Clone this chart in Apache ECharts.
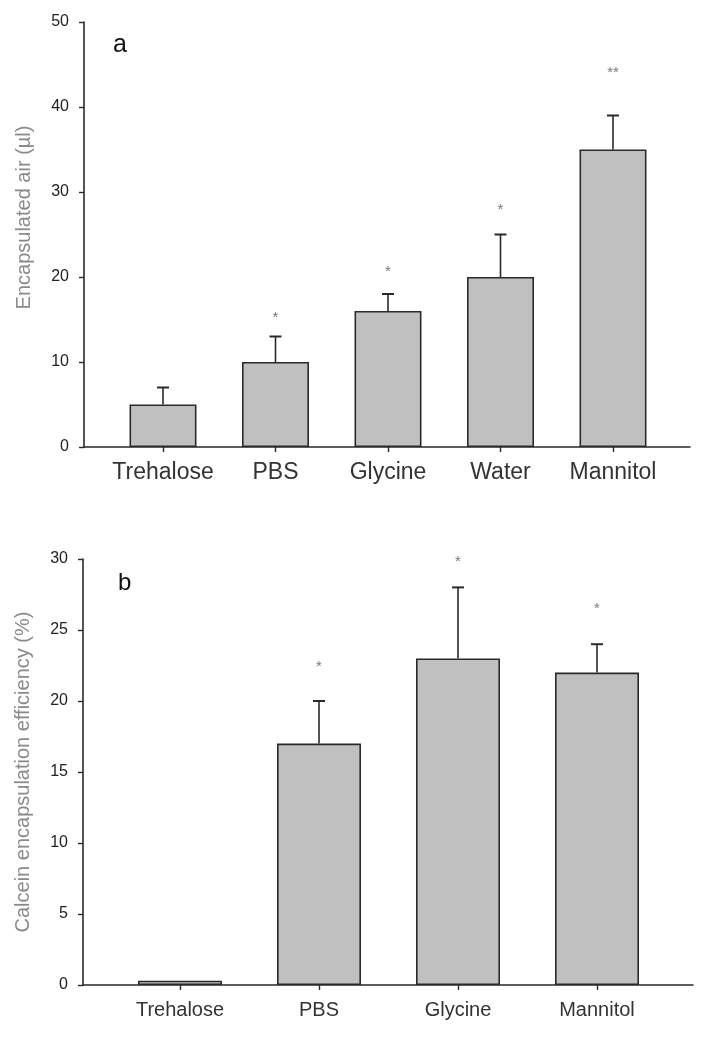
<!DOCTYPE html>
<html>
<head>
<meta charset="utf-8">
<style>
html,body{margin:0;padding:0;background:#fff;}
#c{width:712px;height:1046px;}
</style>
<script src="https://cdn.jsdelivr.net/npm/echarts@6/dist/echarts.min.js"></script>
</head>
<body>
<div id="c"></div>
<script>
// Panel a
var catsA = ['Trehalose', 'PBS', 'Glycine', 'Water', 'Mannitol'];
var valsA = [5, 10, 16, 20, 35];
var errA = [2, 3, 2, 5, 4];
var starsA = ['', '*', '*', '*', '**'];
var starPosA = [null, 15.2, 20.6, 27.9, 44];
var ticksA = [0, 10, 20, 30, 40, 50];
// Panel b
var catsB = ['Trehalose', 'PBS', 'Glycine', 'Mannitol'];
var valsB = [0.3, 17, 23, 22];
var errB = [0, 3, 5, 2];
var starsB = ['', '*', '*', '*'];
var starPosB = [null, 22.4, 29.8, 26.5];
var ticksB = [0, 5, 10, 15, 20, 25, 30];

var FONT = 'Liberation Sans, Arial, sans-serif';
var INK = '#2a2a2a';

function errSeries(xi, yi, vals, errs, cap) {
  return {
    type: 'custom', xAxisIndex: xi, yAxisIndex: yi, z: 5,
    data: vals.map(function (v, i) { return [i, v, errs[i]]; }),
    renderItem: function (params, api) {
      var x = api.value(0), y = api.value(1), e = api.value(2);
      if (!e) return null;
      var p0 = api.coord([x, y]), p1 = api.coord([x, y + e]);
      var st = { stroke: INK, lineWidth: 1.6 };
      return {
        type: 'group', children: [
          { type: 'line', shape: { x1: p0[0], y1: p0[1], x2: p1[0], y2: p1[1] }, style: st },
          { type: 'line', shape: { x1: p1[0] - cap / 2, y1: p1[1], x2: p1[0] + cap / 2, y2: p1[1] }, style: { stroke: INK, lineWidth: 2 } }
        ]
      };
    }
  };
}
function starSeries(xi, yi, pos, marks) {
  var d = [];
  pos.forEach(function (p, i) { if (p != null) d.push([i, p, marks[i]]); });
  return {
    type: 'scatter', xAxisIndex: xi, yAxisIndex: yi, symbolSize: 0, z: 6,
    data: d,
    label: {
      show: true, position: 'inside', fontFamily: FONT, fontSize: 15, color: '#555',
      formatter: function (p) { return p.data[2]; }
    }
  };
}
function frameY(gi, max, interval, name, pad) {
  return {
    type: 'value', gridIndex: gi, min: 0, max: max, interval: interval,
    axisLine: { show: true, lineStyle: { color: INK, width: 1.6 } },
    axisTick: { show: true, length: 5, lineStyle: { color: INK, width: 1.4 } },
    axisLabel: { fontFamily: FONT, fontSize: 16, color: '#222', margin: 15 },
    splitLine: { show: false },
    name: name, nameLocation: 'middle', nameGap: 50,
    nameTextStyle: { fontFamily: FONT, fontSize: 20, color: '#8a8a8a', padding: pad }
  };
}
function frameX(gi) {
  return {
    type: 'value', gridIndex: gi, min: 0, max: 1,
    axisLine: { show: true, onZero: false, lineStyle: { color: INK, width: 1.6 } },
    axisTick: { show: false }, axisLabel: { show: false }, splitLine: { show: false }
  };
}
function catX(gi, cats, fs, margin) {
  return {
    type: 'category', gridIndex: gi, data: cats,
    axisLine: { show: false },
    axisTick: { show: true, alignWithLabel: true, interval: 0, length: 5, lineStyle: { color: INK, width: 1.4 } },
    axisLabel: { interval: 0, fontFamily: FONT, fontSize: fs, color: '#333', margin: margin }
  };
}
function hidY(gi, max) {
  return { type: 'value', gridIndex: gi, min: 0, max: max, show: false };
}

var chart = echarts.init(document.getElementById('c'), null, { renderer: 'canvas' });
chart.setOption({
  animation: false,
  backgroundColor: '#fff',
  title: [
    { text: 'a', left: 108, top: 28, textStyle: { fontFamily: FONT, fontSize: 25, fontWeight: 'normal', color: '#111' } },
    { text: 'b', left: 113, top: 566, textStyle: { fontFamily: FONT, fontSize: 24, fontWeight: 'normal', color: '#111' } }
  ],
  grid: [
    { left: 84, right: 22, top: 22, height: 425 },
    { left: 106.75, right: 42.75, top: 22, height: 425 },
    { left: 83, right: 19, top: 559, height: 426 },
    { left: 110.5, right: 45.5, top: 559, height: 426 }
  ],
  xAxis: [frameX(0), catX(1, catsA, 23, 14), frameX(2), catX(3, catsB, 20, 15)],
  yAxis: [
    frameY(0, ticksA[ticksA.length - 1], ticksA[1] - ticksA[0], 'Encapsulated air (µl)', [0, 0, 0, 34]),
    hidY(1, ticksA[ticksA.length - 1]),
    frameY(2, ticksB[ticksB.length - 1], ticksB[1] - ticksB[0], 'Calcein encapsulation efficiency (%)', [0, 0, 0, 0]),
    hidY(3, ticksB[ticksB.length - 1])
  ],
  series: [
    { type: 'bar', xAxisIndex: 1, yAxisIndex: 1, data: valsA, barWidth: 67,
      itemStyle: { color: '#c0c0c0', borderColor: INK, borderWidth: 1.6 } },
    errSeries(1, 1, valsA, errA, 12),
    starSeries(1, 1, starPosA, starsA),
    { type: 'bar', xAxisIndex: 3, yAxisIndex: 3, data: valsB, barWidth: 84,
      itemStyle: { color: '#c0c0c0', borderColor: INK, borderWidth: 1.6 } },
    errSeries(3, 3, valsB, errB, 12),
    starSeries(3, 3, starPosB, starsB)
  ]
});
</script>
</body>
</html>
